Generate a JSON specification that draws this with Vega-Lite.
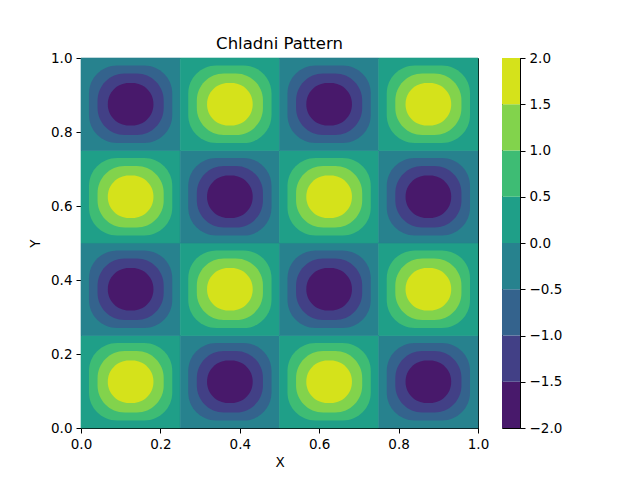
{
  "$schema": "https://vega.github.io/schema/vega-lite/v6.json",
  "background": "white",
  "padding": {"left": 28, "top": 35, "right": 5, "bottom": 5},
  "bounds": "flush",
  "spacing": 24,
  "config": {
    "font": "DejaVu Sans",
    "view": {"stroke": "black", "strokeWidth": 1},
    "axis": {
      "grid": false,
      "labelFlush": false,
      "domainColor": "black",
      "tickColor": "black",
      "tickSize": 5,
      "labelColor": "black",
      "labelFont": "DejaVu Sans",
      "labelFontSize": 13.5,
      "labelPadding": 4,
      "titleColor": "black",
      "titleFont": "DejaVu Sans",
      "titleFontSize": 13.5,
      "titleFontWeight": "normal"
    }
  },
  "hconcat": [
    {
      "width": 397,
      "height": 370,
      "title": {"text": "Chladni Pattern", "font": "DejaVu Sans", "fontSize": 16.5, "fontWeight": "normal", "color": "black", "offset": -1},
      "data": {"values": [
        {"level": 0, "x0": 0, "x1": 0.25, "y0": 0, "y1": 0.25, "z": 0.25},
        {"level": 0, "x0": 0.25, "x1": 0.5, "y0": 0, "y1": 0.25, "z": -0.25},
        {"level": 0, "x0": 0.5, "x1": 0.75, "y0": 0, "y1": 0.25, "z": 0.25},
        {"level": 0, "x0": 0.75, "x1": 1, "y0": 0, "y1": 0.25, "z": -0.25},
        {"level": 0, "x0": 0, "x1": 0.25, "y0": 0.25, "y1": 0.5, "z": -0.25},
        {"level": 0, "x0": 0.25, "x1": 0.5, "y0": 0.25, "y1": 0.5, "z": 0.25},
        {"level": 0, "x0": 0.5, "x1": 0.75, "y0": 0.25, "y1": 0.5, "z": -0.25},
        {"level": 0, "x0": 0.75, "x1": 1, "y0": 0.25, "y1": 0.5, "z": 0.25},
        {"level": 0, "x0": 0, "x1": 0.25, "y0": 0.5, "y1": 0.75, "z": 0.25},
        {"level": 0, "x0": 0.25, "x1": 0.5, "y0": 0.5, "y1": 0.75, "z": -0.25},
        {"level": 0, "x0": 0.5, "x1": 0.75, "y0": 0.5, "y1": 0.75, "z": 0.25},
        {"level": 0, "x0": 0.75, "x1": 1, "y0": 0.5, "y1": 0.75, "z": -0.25},
        {"level": 0, "x0": 0, "x1": 0.25, "y0": 0.75, "y1": 1, "z": -0.25},
        {"level": 0, "x0": 0.25, "x1": 0.5, "y0": 0.75, "y1": 1, "z": 0.25},
        {"level": 0, "x0": 0.5, "x1": 0.75, "y0": 0.75, "y1": 1, "z": -0.25},
        {"level": 0, "x0": 0.75, "x1": 1, "y0": 0.75, "y1": 1, "z": 0.25},

        {"level": 1, "x0": 0.0201, "x1": 0.2299, "y0": 0.0201, "y1": 0.2299, "z": 0.75},
        {"level": 1, "x0": 0.2701, "x1": 0.4799, "y0": 0.0201, "y1": 0.2299, "z": -0.75},
        {"level": 1, "x0": 0.5201, "x1": 0.7299, "y0": 0.0201, "y1": 0.2299, "z": 0.75},
        {"level": 1, "x0": 0.7701, "x1": 0.9799, "y0": 0.0201, "y1": 0.2299, "z": -0.75},
        {"level": 1, "x0": 0.0201, "x1": 0.2299, "y0": 0.2701, "y1": 0.4799, "z": -0.75},
        {"level": 1, "x0": 0.2701, "x1": 0.4799, "y0": 0.2701, "y1": 0.4799, "z": 0.75},
        {"level": 1, "x0": 0.5201, "x1": 0.7299, "y0": 0.2701, "y1": 0.4799, "z": -0.75},
        {"level": 1, "x0": 0.7701, "x1": 0.9799, "y0": 0.2701, "y1": 0.4799, "z": 0.75},
        {"level": 1, "x0": 0.0201, "x1": 0.2299, "y0": 0.5201, "y1": 0.7299, "z": 0.75},
        {"level": 1, "x0": 0.2701, "x1": 0.4799, "y0": 0.5201, "y1": 0.7299, "z": -0.75},
        {"level": 1, "x0": 0.5201, "x1": 0.7299, "y0": 0.5201, "y1": 0.7299, "z": 0.75},
        {"level": 1, "x0": 0.7701, "x1": 0.9799, "y0": 0.5201, "y1": 0.7299, "z": -0.75},
        {"level": 1, "x0": 0.0201, "x1": 0.2299, "y0": 0.7701, "y1": 0.9799, "z": -0.75},
        {"level": 1, "x0": 0.2701, "x1": 0.4799, "y0": 0.7701, "y1": 0.9799, "z": 0.75},
        {"level": 1, "x0": 0.5201, "x1": 0.7299, "y0": 0.7701, "y1": 0.9799, "z": -0.75},
        {"level": 1, "x0": 0.7701, "x1": 0.9799, "y0": 0.7701, "y1": 0.9799, "z": 0.75},

        {"level": 2, "x0": 0.0417, "x1": 0.2083, "y0": 0.0417, "y1": 0.2083, "z": 1.25},
        {"level": 2, "x0": 0.2917, "x1": 0.4583, "y0": 0.0417, "y1": 0.2083, "z": -1.25},
        {"level": 2, "x0": 0.5417, "x1": 0.7083, "y0": 0.0417, "y1": 0.2083, "z": 1.25},
        {"level": 2, "x0": 0.7917, "x1": 0.9583, "y0": 0.0417, "y1": 0.2083, "z": -1.25},
        {"level": 2, "x0": 0.0417, "x1": 0.2083, "y0": 0.2917, "y1": 0.4583, "z": -1.25},
        {"level": 2, "x0": 0.2917, "x1": 0.4583, "y0": 0.2917, "y1": 0.4583, "z": 1.25},
        {"level": 2, "x0": 0.5417, "x1": 0.7083, "y0": 0.2917, "y1": 0.4583, "z": -1.25},
        {"level": 2, "x0": 0.7917, "x1": 0.9583, "y0": 0.2917, "y1": 0.4583, "z": 1.25},
        {"level": 2, "x0": 0.0417, "x1": 0.2083, "y0": 0.5417, "y1": 0.7083, "z": 1.25},
        {"level": 2, "x0": 0.2917, "x1": 0.4583, "y0": 0.5417, "y1": 0.7083, "z": -1.25},
        {"level": 2, "x0": 0.5417, "x1": 0.7083, "y0": 0.5417, "y1": 0.7083, "z": 1.25},
        {"level": 2, "x0": 0.7917, "x1": 0.9583, "y0": 0.5417, "y1": 0.7083, "z": -1.25},
        {"level": 2, "x0": 0.0417, "x1": 0.2083, "y0": 0.7917, "y1": 0.9583, "z": -1.25},
        {"level": 2, "x0": 0.2917, "x1": 0.4583, "y0": 0.7917, "y1": 0.9583, "z": 1.25},
        {"level": 2, "x0": 0.5417, "x1": 0.7083, "y0": 0.7917, "y1": 0.9583, "z": -1.25},
        {"level": 2, "x0": 0.7917, "x1": 0.9583, "y0": 0.7917, "y1": 0.9583, "z": 1.25},

        {"level": 3, "x0": 0.0675, "x1": 0.1825, "y0": 0.0675, "y1": 0.1825, "z": 1.75},
        {"level": 3, "x0": 0.3175, "x1": 0.4325, "y0": 0.0675, "y1": 0.1825, "z": -1.75},
        {"level": 3, "x0": 0.5675, "x1": 0.6825, "y0": 0.0675, "y1": 0.1825, "z": 1.75},
        {"level": 3, "x0": 0.8175, "x1": 0.9325, "y0": 0.0675, "y1": 0.1825, "z": -1.75},
        {"level": 3, "x0": 0.0675, "x1": 0.1825, "y0": 0.3175, "y1": 0.4325, "z": -1.75},
        {"level": 3, "x0": 0.3175, "x1": 0.4325, "y0": 0.3175, "y1": 0.4325, "z": 1.75},
        {"level": 3, "x0": 0.5675, "x1": 0.6825, "y0": 0.3175, "y1": 0.4325, "z": -1.75},
        {"level": 3, "x0": 0.8175, "x1": 0.9325, "y0": 0.3175, "y1": 0.4325, "z": 1.75},
        {"level": 3, "x0": 0.0675, "x1": 0.1825, "y0": 0.5675, "y1": 0.6825, "z": 1.75},
        {"level": 3, "x0": 0.3175, "x1": 0.4325, "y0": 0.5675, "y1": 0.6825, "z": -1.75},
        {"level": 3, "x0": 0.5675, "x1": 0.6825, "y0": 0.5675, "y1": 0.6825, "z": 1.75},
        {"level": 3, "x0": 0.8175, "x1": 0.9325, "y0": 0.5675, "y1": 0.6825, "z": -1.75},
        {"level": 3, "x0": 0.0675, "x1": 0.1825, "y0": 0.8175, "y1": 0.9325, "z": -1.75},
        {"level": 3, "x0": 0.3175, "x1": 0.4325, "y0": 0.8175, "y1": 0.9325, "z": 1.75},
        {"level": 3, "x0": 0.5675, "x1": 0.6825, "y0": 0.8175, "y1": 0.9325, "z": -1.75},
        {"level": 3, "x0": 0.8175, "x1": 0.9325, "y0": 0.8175, "y1": 0.9325, "z": 1.75}
      ]},
      "encoding": {
        "x": {"field": "x0", "type": "quantitative", "scale": {"domain": [0, 1], "nice": false}, "axis": {"title": "X", "values": [0, 0.2, 0.4, 0.6, 0.8, 1], "format": ".1f", "titlePadding": 5}},
        "x2": {"field": "x1"},
        "y": {"field": "y0", "type": "quantitative", "scale": {"domain": [0, 1], "nice": false}, "axis": {"title": "Y", "values": [0, 0.2, 0.4, 0.6, 0.8, 1], "format": ".1f", "titlePadding": 8}},
        "y2": {"field": "y1"},
        "color": {"field": "z", "type": "quantitative", "scale": {"scheme": "viridis", "domain": [-2, 2]}, "legend": null}
      },
      "layer": [
        {"transform": [{"filter": "datum.level == 0"}], "mark": {"type": "rect", "cornerRadius": 0, "strokeWidth": 0.6},
         "encoding": {"stroke": {"field": "z", "type": "quantitative", "scale": {"scheme": "viridis", "domain": [-2, 2]}, "legend": null}}},
        {"transform": [{"filter": "datum.level == 1"}], "mark": {"type": "rect", "cornerRadius": 28}},
        {"transform": [{"filter": "datum.level == 2"}], "mark": {"type": "rect", "cornerRadius": 27}},
        {"transform": [{"filter": "datum.level == 3"}], "mark": {"type": "rect", "cornerRadius": 21}}
      ]
    },
    {
      "width": 18,
      "height": 370,
      "data": {"values": [
        {"lo": -2, "hi": -1.5, "z": -1.75},
        {"lo": -1.5, "hi": -1, "z": -1.25},
        {"lo": -1, "hi": -0.5, "z": -0.75},
        {"lo": -0.5, "hi": 0, "z": -0.25},
        {"lo": 0, "hi": 0.5, "z": 0.25},
        {"lo": 0.5, "hi": 1, "z": 0.75},
        {"lo": 1, "hi": 1.5, "z": 1.25},
        {"lo": 1.5, "hi": 2, "z": 1.75}
      ]},
      "mark": "rect",
      "encoding": {
        "y": {"field": "lo", "type": "quantitative", "scale": {"domain": [-2, 2], "nice": false}, "axis": {"orient": "right", "title": null, "values": [-2, -1.5, -1, -0.5, 0, 0.5, 1, 1.5, 2], "format": ".1f"}},
        "y2": {"field": "hi"},
        "color": {"field": "z", "type": "quantitative", "scale": {"scheme": "viridis", "domain": [-2, 2]}, "legend": null}
      }
    }
  ]
}
